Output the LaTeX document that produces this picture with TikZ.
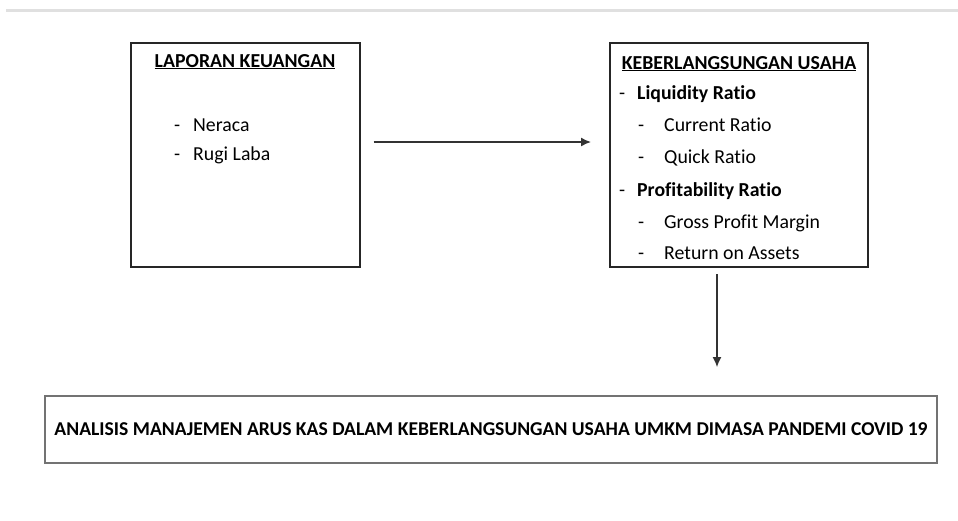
\documentclass[tikz,border=0pt]{standalone}
\usepackage{fontspec}
\setmainfont{Carlito}[Ligatures=NoCommon]
\usepackage{tikz}
\usetikzlibrary{positioning}
\usetikzlibrary{arrows.meta}

\begin{document}
\begin{tikzpicture}[x=1pt, y=-1pt,
                    box/.style={rectangle, draw=black!85, line width=2pt, inner sep=0pt},
                    titlebox/.style={rectangle, draw=black!55, line width=1.8pt, inner sep=0pt},
                    heading/.style={anchor=base, inner sep=0pt, font=\fontsize{19.8}{20}\selectfont\bfseries},
                    item/.style={anchor=base west, inner sep=0pt, font=\fontsize{19.8}{20}\selectfont},
                    bolditem/.style={anchor=base west, inner sep=0pt, font=\fontsize{19.8}{20}\selectfont\bfseries},
                    arrow/.style={-{Latex[length=10pt, width=9pt]}, line width=1.5pt, draw=black!80},
                ]
    \useasboundingbox (0,0) rectangle (958,520);
    \draw[line width=3pt, black!12] (6,10) -- (958,10);

    %Nodes
    \node[box, minimum width=229pt, minimum height=224pt] (laporan) at (245,155) {};
    \node[heading] (laporan_t) at (245,67) {\underline{LAPORAN KEUANGAN}};
    \node[item] (d1) at (174,131) {-};
    \node[item] (neraca) at (193,131) {Neraca};
    \node[item] (d2) at (174,160) {-};
    \node[item] (rugi) at (193,160) {Rugi Laba};

    \node[box, minimum width=258pt, minimum height=224pt] (usaha) at (739,155) {};
    \node[heading] (usaha_t) at (739,69) {\underline{KEBERLANGSUNGAN USAHA}};
    \node[item] (d3) at (619,99) {-};
    \node[bolditem] (liq) at (637,99) {Liquidity Ratio};
    \node[item] (d4) at (638,131) {-};
    \node[item] (cur) at (664,131) {Current Ratio};
    \node[item] (d5) at (638,163) {-};
    \node[item] (quick) at (664,163) {Quick Ratio};
    \node[item] (d6) at (619,196) {-};
    \node[bolditem] (prof) at (637,196) {Profitability Ratio};
    \node[item] (d7) at (638,228) {-};
    \node[item] (gross) at (664,228) {Gross Profit Margin};
    \node[item] (d8) at (638,259) {-};
    \node[item] (roa) at (664,259) {Return on Assets};

    \node[titlebox, minimum width=892pt, minimum height=67pt,
          font=\fontsize{19.6}{20}\selectfont\bfseries] (judul) at (491,429.5)
          {ANALISIS MANAJEMEN ARUS KAS DALAM KEBERLANGSUNGAN USAHA UMKM DIMASA PANDEMI COVID 19};

    %Lines
    \draw[arrow, shorten <=13pt, shorten >=18pt] ([yshift=13pt]laporan.east) -- ([yshift=13pt]usaha.west);
    \draw[arrow, shorten <=6pt, shorten >=28pt] ([xshift=-22pt]usaha.south) -- ([xshift=-22pt]usaha.south |- judul.north);
\end{tikzpicture}
\end{document}
